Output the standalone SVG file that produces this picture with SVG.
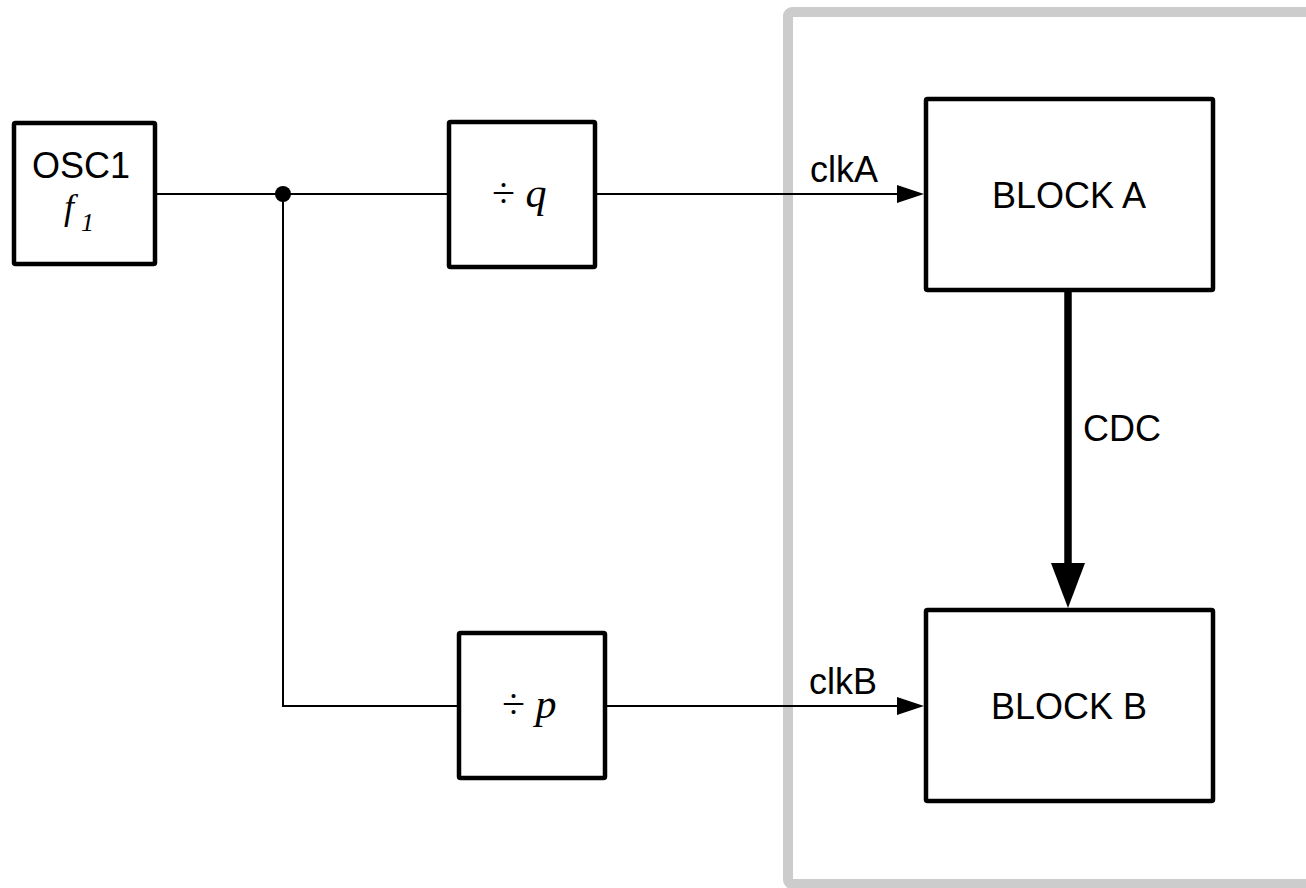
<svg xmlns="http://www.w3.org/2000/svg" width="1306" height="888" viewBox="0 0 1306 888">
<style>
.box{fill:#ffffff;stroke:#000000;stroke-width:4.5;stroke-linejoin:round}
.wire{fill:none;stroke:#000000;stroke-width:2}
.lbl{font-family:"Liberation Sans",Arial,sans-serif;font-size:36px;fill:#000000}
.math{font-family:"Liberation Serif","Times New Roman",serif;font-style:italic;fill:#000000}
.op{font-family:"Liberation Serif","Times New Roman",serif;fill:#000000}
</style>
<rect width="1306" height="888" fill="#ffffff"/>
<g id="domain">
<rect x="788" y="12" width="560" height="872" rx="4" fill="none" stroke="#cccccc" stroke-width="10"/>
</g>
<g id="connectors">
<line class="wire" x1="157" y1="194" x2="449" y2="194"/>
<circle cx="283" cy="194" r="8" fill="#000000"/>
<polyline class="wire" points="283,194 283,706 459,706"/>
<line class="wire" x1="595" y1="194" x2="900" y2="194"/>
<polygon points="897,185 897,203 924,194" fill="#000000"/>
<text class="lbl" x="810" y="182">clkA</text>
<line class="wire" x1="605" y1="706" x2="900" y2="706"/>
<polygon points="897,697 897,715 924,706" fill="#000000"/>
<text class="lbl" x="809" y="694">clkB</text>
<line x1="1068" y1="289" x2="1068" y2="566" stroke="#000000" stroke-width="7.5"/>
<polygon points="1051,563 1085,563 1068,608" fill="#000000"/>
<text class="lbl" x="1083" y="441">CDC</text>
</g>
<g id="osc1">
<rect class="box" x="14" y="123" width="141" height="141" rx="1.5"/>
<text class="lbl" x="81" y="178" text-anchor="middle">OSC1</text>
<text class="math" x="64" y="219" font-size="36">f<tspan x="81" y="231" font-size="26">1</tspan></text>
</g>
<g id="divq">
<rect class="box" x="449" y="122" width="146" height="145" rx="1.5"/>
<text class="op" x="492" y="207" font-size="42">÷ <tspan class="math">q</tspan></text>
</g>
<g id="divp">
<rect class="box" x="459" y="633" width="146" height="145" rx="1.5"/>
<text class="op" x="502" y="718" font-size="42">÷ <tspan class="math">p</tspan></text>
</g>
<g id="blockA">
<rect class="box" x="926" y="99" width="287" height="191" rx="1.5"/>
<text class="lbl" x="1069" y="208" text-anchor="middle">BLOCK A</text>
</g>
<g id="blockB">
<rect class="box" x="926" y="610" width="287" height="191" rx="1.5"/>
<text class="lbl" x="1069" y="719" text-anchor="middle">BLOCK B</text>
</g>
</svg>
